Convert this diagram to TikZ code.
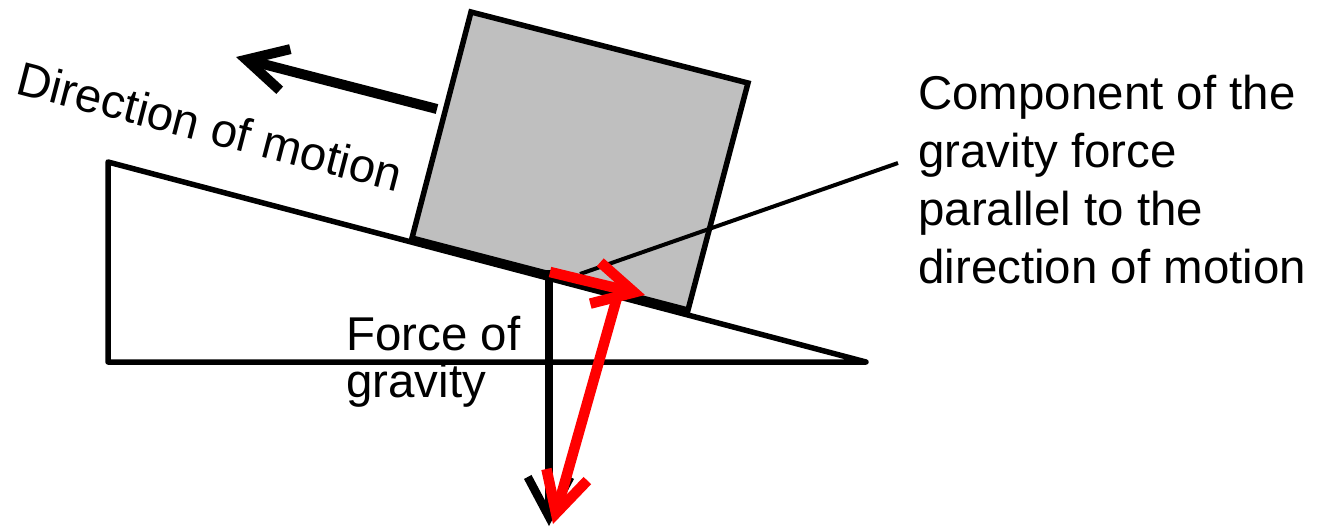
\documentclass[tikz,border=0pt]{standalone}
\usepackage{fontspec}
\setmainfont{Liberation Sans}
\usetikzlibrary{arrows.meta}
\definecolor{blockgray}{RGB}{191,191,191}
\tikzset{
  txt/.style={font=\fontsize{27}{33}\selectfont,inner sep=0pt},
  heavy/.style={line width=0.2cm,->},
  redarrow/.style={line width=0.21cm,red,->},
}

\begin{document}
\begin{tikzpicture}[x=0.02cm,y=-0.02cm,>={Straight Barb[length=0.8cm,width=0.85cm]}]
  \useasboundingbox (0,0) rectangle (1322,529);
  \def\lw{0.11cm}
  \draw[line width=\lw,line join=round] (108,162) -- (108,362) -- (866,362) -- cycle;
  \draw[line width=\lw,fill=blockgray] (412,238) -- (471,12) -- (748,83) -- (688,310) -- cycle;
  \coordinate (m0) at (437,109); \coordinate (m1) at (236,57);
  \draw[heavy] (m0) -- (m1);
  \node[txt,rotate=-14.5,anchor=base west] (dir) at (14,93) {Direction of motion};
  \coordinate (g0) at (549,270); \coordinate (g1) at (549,526);
  \draw[heavy,line width=0.17cm] (g0) -- (g1);
  \coordinate (l0) at (580,274); \coordinate (l1) at (898,163);
  \draw[line width=0.08cm] (l0) -- (l1);
  \coordinate (r0) at (550,272); \coordinate (r1) at (645,295);
  \coordinate (r2) at (618,294); \coordinate (r3) at (553,524);
  \draw[redarrow] (r0) -- (r1);
  \draw[redarrow] (r2) -- (r3);
  \node[txt,align=left,anchor=base west] (comp) at (918,283)
    {Component of the\\gravity force\\parallel to the\\direction of motion};
  \node[txt,font=\fontsize{27}{26.6}\selectfont,align=left,anchor=base west] (grav) at (346,397)
    {Force of\\gravity};
\end{tikzpicture}
\end{document}
